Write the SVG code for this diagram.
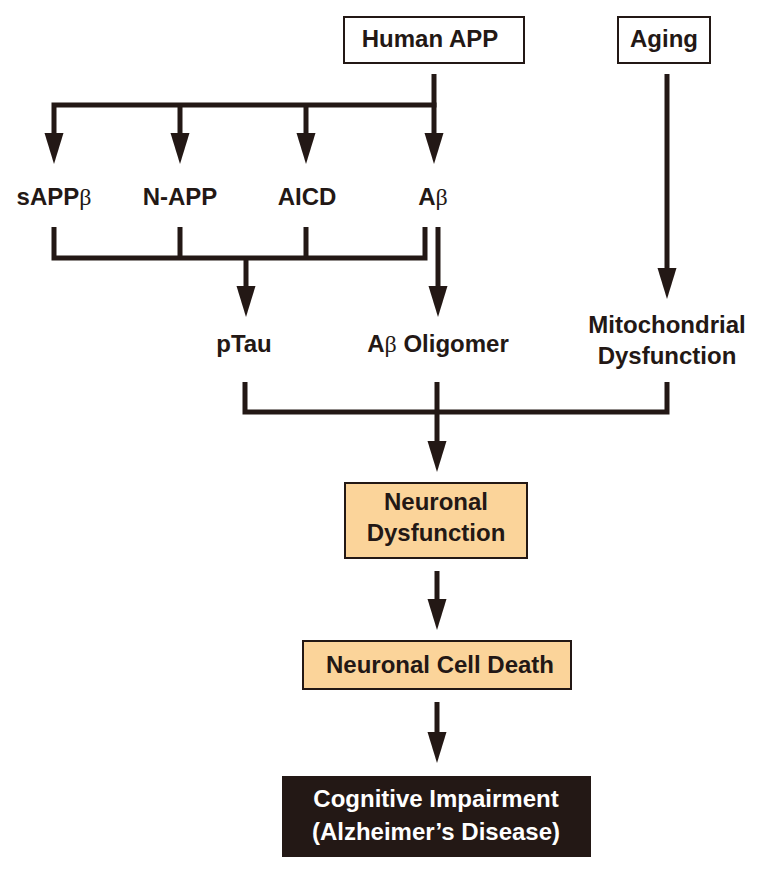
<svg xmlns="http://www.w3.org/2000/svg" width="761" height="873" viewBox="0 0 761 873">
<defs>
<marker id="ah" markerUnits="userSpaceOnUse" markerWidth="31" markerHeight="19" refX="0" refY="9.5" orient="auto" overflow="visible">
<path d="M0,0 L31,9.5 L0,19 Z" fill="#231815"/>
</marker>
<style>
.t{font-family:"Liberation Sans",Arial,sans-serif;font-weight:bold;font-size:24px;fill:#231815;text-anchor:middle}
.w{fill:#ffffff}
.b{font-family:"Liberation Serif","Times New Roman",serif;font-weight:normal}
.box{fill:#ffffff;stroke:#231815;stroke-width:2}
.or{fill:#FBD49A;stroke:#231815;stroke-width:2}
.dk{fill:#231815;stroke:none}
.ln{fill:none;stroke:#231815;stroke-width:5;stroke-linejoin:miter;stroke-linecap:butt}
.ar{marker-end:url(#ah)}
</style>
</defs>
<rect width="761" height="873" fill="#ffffff"/>
<g id="connectors">
<path class="ln" d="M434,74 V105"/>
<path class="ln ar" d="M54,107.5 V105 H436.5 M54,105 V133"/>
<path class="ln ar" d="M180,105 V133"/>
<path class="ln ar" d="M306,105 V133"/>
<path class="ln ar" d="M434,105 V133"/>
<path class="ln" d="M54,227 V258 H425 V227"/>
<path class="ln" d="M180,227 V258"/>
<path class="ln" d="M306,227 V258"/>
<path class="ln ar" d="M246,258 V286"/>
<path class="ln ar" d="M438,227 V286"/>
<path class="ln ar" d="M667,74 V268"/>
<path class="ln" d="M245,382 V412 H667 V382"/>
<path class="ln ar" d="M437,382 V441"/>
<path class="ln ar" d="M437,571 V599"/>
<path class="ln ar" d="M437,702 V732"/>
</g>
<g id="human-app">
<rect class="box" x="344" y="17" width="180" height="46"/>
<text class="t" x="430" y="47">Human APP</text>
</g>
<g id="aging">
<rect class="box" x="618" y="17" width="92" height="46"/>
<text class="t" x="664" y="47">Aging</text>
</g>
<g id="sappb">
<text class="t" x="54" y="205">sAPP<tspan class="b">β</tspan></text>
</g>
<g id="n-app">
<text class="t" x="180" y="205">N-APP</text>
</g>
<g id="aicd">
<text class="t" x="307" y="205">AICD</text>
</g>
<g id="abeta">
<text class="t" x="433" y="205">A<tspan class="b">β</tspan></text>
</g>
<g id="ptau">
<text class="t" x="244" y="352">pTau</text>
</g>
<g id="abeta-oligomer">
<text class="t" x="438" y="352">A<tspan class="b">β</tspan> Oligomer</text>
</g>
<g id="mito">
<text class="t" x="667" y="333">Mitochondrial</text>
<text class="t" x="667" y="364">Dysfunction</text>
</g>
<g id="neuronal-dysfunction">
<rect class="or" x="345" y="483" width="182" height="75"/>
<text class="t" x="436" y="510">Neuronal</text>
<text class="t" x="436" y="541">Dysfunction</text>
</g>
<g id="cell-death">
<rect class="or" x="303" y="641" width="268" height="48"/>
<text class="t" x="440" y="673">Neuronal Cell Death</text>
</g>
<g id="cognitive">
<rect class="dk" x="282" y="776" width="309" height="81"/>
<text class="t w" x="436" y="807">Cognitive Impairment</text>
<text class="t w" x="436" y="840">(Alzheimer’s Disease)</text>
</g>
</svg>
